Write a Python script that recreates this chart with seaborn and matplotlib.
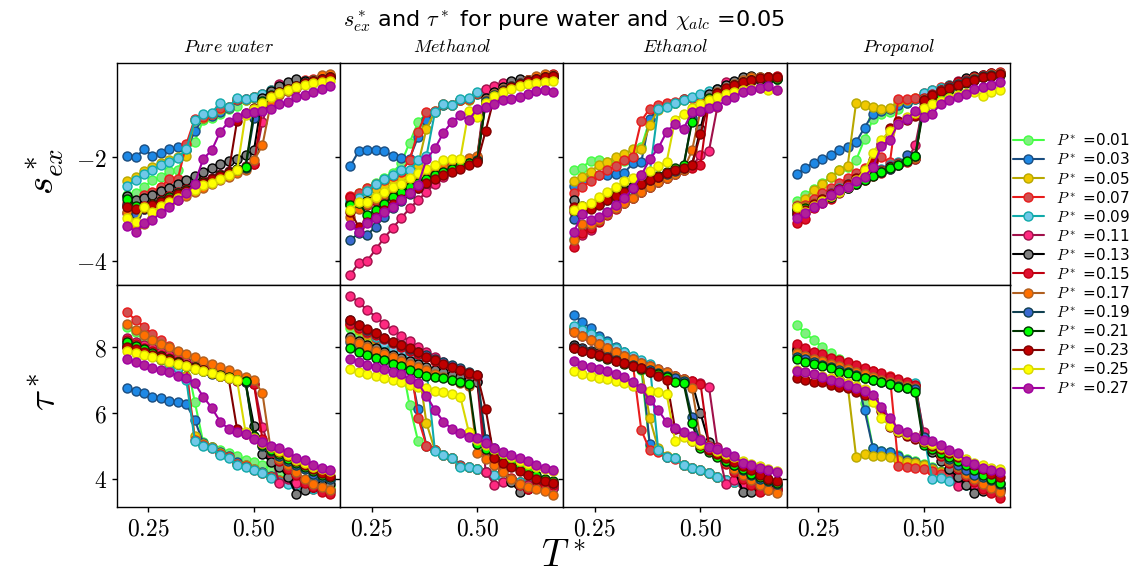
import matplotlib
matplotlib.use("Agg")
import matplotlib.pyplot as plt
import seaborn as sns
from matplotlib.ticker import FixedLocator, FuncFormatter

# Reduced temperature grid shared by every curve
T_STAR = [0.20, 0.22, 0.24, 0.26, 0.28, 0.30, 0.32, 0.34, 0.36, 0.38, 0.40, 0.42, 0.44,
          0.46, 0.48, 0.50, 0.52, 0.54, 0.56, 0.58, 0.60, 0.62, 0.64, 0.66, 0.68]

PRESSURES = ["0.01", "0.03", "0.05", "0.07", "0.09", "0.11", "0.13",
             "0.15", "0.17", "0.19", "0.21", "0.23", "0.25", "0.27"]

LINE_COLORS = ["#44ff44", "#1a4d80", "#b8a800", "#e81c1c", "#10aaaa", "#a0104a", "#000000",
               "#c00010", "#b06020", "#104050", "#003300", "#800000", "#d8d800", "#a000a0"]
FACE_COLORS = ["#80ee80", "#1e88e5", "#f0c800", "#d05050", "#70c8e8", "#ff2a80", "#808080",
               "#e01030", "#ff7000", "#3a6ad0", "#00ff00", "#c00000", "#ffff00", "#b0209a"]

COLUMN_TITLES = ["Pure\\ water", "Methanol", "Ethanol", "Propanol"]

# Excess entropy s*_ex, one row per pressure (0.01 ... 0.27)
WATER_SEX = [
    [-2.73, -2.70, -2.58, -2.44, -2.38, -2.26, -2.25, -1.87, -1.70, -1.28, -1.24, -1.16, -1.06, -1.02, -0.90, -0.86, -0.82, -0.76, -0.70, -0.66, -0.60, -0.55, -0.52, -0.48, -0.45],
    [-1.97, -2.00, -1.85, -1.97, -1.92, -1.84, -1.81, -1.86, -1.50, -1.24, -1.20, -1.12, -1.05, -0.90, -0.88, -0.84, -0.78, -0.72, -0.67, -0.62, -0.57, -0.53, -0.50, -0.46, -0.43],
    [-2.47, -2.38, -2.26, -2.19, -2.12, -2.06, -1.99, -1.98, -1.29, -1.25, -1.17, -1.06, -1.04, -0.88, -0.89, -0.84, -0.79, -0.72, -0.68, -0.63, -0.58, -0.53, -0.50, -0.46, -0.43],
    [-2.89, -2.89, -2.73, -2.67, -2.57, -2.42, -2.42, -1.75, -1.26, -1.22, -1.16, -1.05, -1.03, -0.87, -0.87, -0.83, -0.78, -0.71, -0.66, -0.61, -0.56, -0.51, -0.48, -0.44, -0.41],
    [-2.56, -2.44, -2.33, -2.25, -2.15, -2.09, -2.01, -1.85, -1.29, -1.17, -1.14, -0.96, -1.04, -0.85, -0.88, -0.83, -0.78, -0.70, -0.68, -0.63, -0.58, -0.53, -0.50, -0.46, -0.43],
    [-3.08, -3.12, -3.00, -2.95, -2.85, -2.75, -2.68, -2.60, -2.52, -2.45, -2.40, -2.33, -2.27, -2.22, -2.17, -2.14, -1.32, -0.80, -0.58, -0.64, -0.60, -0.56, -0.52, -0.48, -0.46],
    [-2.75, -2.82, -2.78, -2.74, -2.65, -2.59, -2.52, -2.45, -2.37, -2.29, -2.20, -2.13, -2.07, -2.03, -1.96, -1.87, -0.85, -0.72, -0.62, -0.55, -0.49, -0.52, -0.50, -0.46, -0.44],
    [-2.95, -3.05, -2.95, -2.90, -2.83, -2.75, -2.68, -2.62, -2.55, -2.48, -2.42, -2.36, -2.30, -2.24, -2.19, -2.14, -1.05, -0.90, -0.78, -0.72, -0.66, -0.58, -0.53, -0.47, -0.43],
    [-3.05, -3.35, -3.30, -3.05, -2.98, -2.90, -2.82, -2.75, -2.68, -2.60, -2.52, -2.45, -2.38, -2.31, -2.25, -2.06, -1.77, -0.95, -0.80, -0.72, -0.65, -0.58, -0.50, -0.42, -0.40],
    [-2.92, -3.10, -3.00, -2.92, -2.85, -2.78, -2.70, -2.63, -2.56, -2.49, -2.42, -2.36, -2.30, -2.24, -2.20, -1.25, -0.95, -0.82, -0.75, -0.68, -0.62, -0.56, -0.52, -0.48, -0.45],
    [-2.80, -2.95, -2.98, -2.90, -2.84, -2.77, -2.70, -2.63, -2.56, -2.48, -2.42, -2.35, -2.28, -2.22, -2.19, -1.12, -0.92, -0.80, -0.74, -0.68, -0.62, -0.57, -0.53, -0.48, -0.45],
    [-2.96, -3.00, -2.98, -2.92, -2.86, -2.80, -2.72, -2.65, -2.58, -2.50, -2.43, -2.37, -2.30, -1.30, -1.15, -1.05, -0.95, -0.82, -0.75, -0.68, -0.62, -0.57, -0.53, -0.48, -0.45],
    [-3.18, -3.26, -2.97, -3.05, -2.94, -2.86, -2.79, -2.70, -2.63, -2.53, -2.49, -2.43, -2.34, -2.25, -1.19, -1.07, -0.96, -0.84, -0.76, -0.70, -0.64, -0.60, -0.57, -0.54, -0.52],
    [-3.33, -3.44, -3.28, -3.21, -3.08, -2.96, -2.83, -2.70, -2.51, -2.03, -1.87, -1.51, -1.32, -1.22, -1.15, -1.13, -1.10, -1.06, -0.97, -0.94, -0.84, -0.79, -0.74, -0.68, -0.62],
]

METHANOL_SEX = [
    [-2.78, -2.70, -2.60, -2.50, -2.40, -2.30, -2.12, -1.72, -1.33, -1.15, -1.10, -0.99, -1.00, -0.90, -0.89, -0.78, -0.72, -0.68, -0.63, -0.58, -0.54, -0.51, -0.48, -0.45, -0.43],
    [-2.17, -1.88, -1.87, -1.87, -1.88, -1.97, -2.01, -2.03, -1.61, -1.28, -1.12, -1.00, -1.00, -0.90, -0.88, -0.78, -0.72, -0.67, -0.62, -0.58, -0.54, -0.50, -0.47, -0.44, -0.42],
    [-2.90, -2.80, -2.72, -2.62, -2.55, -2.45, -2.38, -2.28, -2.15, -1.45, -1.12, -0.98, -1.00, -0.89, -0.89, -0.76, -0.71, -0.67, -0.62, -0.58, -0.54, -0.50, -0.47, -0.44, -0.42],
    [-2.75, -2.70, -2.60, -2.52, -2.44, -2.36, -2.28, -2.06, -1.51, -1.13, -1.10, -0.97, -1.00, -0.89, -0.88, -0.76, -0.70, -0.66, -0.62, -0.57, -0.53, -0.50, -0.47, -0.44, -0.42],
    [-2.85, -2.78, -2.65, -2.51, -2.42, -2.35, -2.24, -2.24, -2.06, -1.98, -1.13, -0.97, -1.00, -0.88, -0.86, -0.74, -0.70, -0.66, -0.62, -0.57, -0.53, -0.50, -0.47, -0.44, -0.42],
    [-4.28, -4.04, -4.00, -3.78, -3.56, -3.37, -3.18, -2.99, -2.83, -2.67, -2.51, -2.38, -2.25, -2.12, -2.08, -2.00, -0.68, -0.62, -0.57, -0.55, -0.52, -0.50, -0.48, -0.46, -0.45],
    [-2.90, -2.95, -2.85, -2.78, -2.70, -2.62, -2.55, -2.47, -2.40, -2.33, -2.27, -2.20, -2.15, -2.10, -2.06, -2.02, -0.85, -0.75, -0.65, -0.53, -0.49, -0.52, -0.50, -0.47, -0.45],
    [-2.76, -2.95, -2.92, -2.85, -2.78, -2.70, -2.62, -2.55, -2.47, -2.40, -2.33, -2.26, -2.20, -2.15, -2.10, -2.03, -0.95, -0.80, -0.70, -0.62, -0.56, -0.50, -0.46, -0.43, -0.40],
    [-3.15, -3.00, -2.90, -2.80, -2.72, -2.64, -2.56, -2.48, -2.40, -2.32, -2.25, -2.18, -2.12, -2.06, -2.02, -1.98, -0.90, -0.78, -0.68, -0.62, -0.56, -0.50, -0.44, -0.40, -0.42],
    [-3.60, -3.47, -3.50, -3.34, -3.15, -2.98, -2.85, -2.72, -2.60, -2.50, -2.40, -2.32, -2.25, -2.18, -2.12, -2.06, -0.92, -0.80, -0.70, -0.63, -0.57, -0.52, -0.48, -0.45, -0.43],
    [-2.92, -2.88, -3.12, -3.02, -2.90, -2.76, -2.67, -2.57, -2.49, -2.42, -2.35, -2.28, -2.22, -2.17, -2.12, -2.08, -0.95, -0.82, -0.72, -0.65, -0.58, -0.53, -0.49, -0.46, -0.44],
    [-3.05, -3.35, -3.25, -3.15, -3.02, -2.90, -2.80, -2.70, -2.60, -2.50, -2.42, -2.35, -2.28, -2.22, -2.16, -2.10, -1.49, -0.85, -0.72, -0.65, -0.58, -0.53, -0.49, -0.46, -0.44],
    [-3.02, -2.86, -2.86, -2.76, -2.67, -2.57, -2.51, -2.41, -2.31, -2.22, -2.15, -2.06, -2.04, -2.03, -1.10, -1.22, -0.95, -0.82, -0.74, -0.68, -0.62, -0.58, -0.56, -0.54, -0.52],
    [-3.31, -3.44, -3.28, -3.18, -3.05, -2.96, -2.83, -2.70, -2.54, -2.04, -1.83, -1.53, -1.32, -1.19, -1.29, -1.06, -1.03, -0.97, -0.90, -0.87, -0.83, -0.78, -0.72, -0.70, -0.74],
]

ETHANOL_SEX = [
    [-2.24, -2.20, -2.07, -2.06, -2.10, -2.12, -2.08, -2.00, -1.81, -1.28, -1.05, -0.98, -0.95, -0.88, -0.86, -0.83, -0.76, -0.70, -0.63, -0.59, -0.55, -0.52, -0.50, -0.49, -0.48],
    [-2.56, -2.48, -2.40, -2.34, -2.35, -2.33, -2.30, -2.12, -2.09, -1.26, -1.05, -0.98, -0.95, -0.88, -0.86, -0.83, -0.76, -0.70, -0.63, -0.59, -0.55, -0.52, -0.50, -0.49, -0.48],
    [-2.47, -2.38, -2.28, -2.15, -2.09, -1.99, -1.94, -1.85, -1.85, -1.38, -1.08, -0.98, -0.95, -0.89, -0.86, -0.83, -0.76, -0.70, -0.63, -0.59, -0.55, -0.52, -0.50, -0.49, -0.48],
    [-2.70, -2.58, -2.47, -2.35, -2.25, -2.17, -2.06, -1.99, -1.30, -1.06, -1.00, -0.96, -0.94, -0.88, -0.85, -0.82, -0.75, -0.68, -0.62, -0.58, -0.54, -0.51, -0.49, -0.48, -0.47],
    [-3.58, -3.42, -3.30, -3.18, -3.05, -2.92, -2.80, -2.66, -2.48, -2.30, -1.06, -1.03, -0.95, -0.90, -0.83, -0.77, -0.72, -0.68, -0.62, -0.58, -0.54, -0.51, -0.50, -0.49, -0.48],
    [-3.05, -3.50, -3.40, -3.20, -3.08, -2.98, -2.88, -2.78, -2.68, -2.58, -2.48, -2.40, -2.32, -2.25, -2.18, -1.96, -1.88, -1.03, -0.55, -0.60, -0.56, -0.52, -0.50, -0.48, -0.46],
    [-2.83, -2.95, -2.92, -2.85, -2.78, -2.70, -2.62, -2.55, -2.48, -2.42, -2.36, -2.30, -2.25, -2.20, -2.15, -1.45, -0.78, -0.68, -0.60, -0.52, -0.46, -0.44, -0.45, -0.46, -0.47],
    [-3.74, -3.47, -3.37, -3.25, -3.12, -3.00, -2.88, -2.78, -2.68, -2.58, -2.48, -2.40, -2.32, -2.25, -2.20, -2.15, -0.92, -0.80, -0.70, -0.62, -0.56, -0.50, -0.47, -0.45, -0.44],
    [-3.60, -3.30, -3.30, -3.22, -3.10, -2.98, -2.88, -2.78, -2.68, -2.58, -2.48, -2.40, -2.32, -2.25, -1.87, -1.10, -0.85, -0.75, -0.66, -0.58, -0.50, -0.46, -0.45, -0.46, -0.47],
    [-3.20, -3.05, -2.98, -2.90, -2.82, -2.75, -2.68, -2.60, -2.52, -2.45, -2.38, -2.32, -2.26, -2.20, -1.25, -1.05, -0.90, -0.78, -0.68, -0.60, -0.55, -0.50, -0.48, -0.47, -0.47],
    [-3.02, -3.00, -2.95, -2.88, -2.80, -2.72, -2.65, -2.57, -2.50, -2.43, -2.36, -2.28, -2.20, -2.15, -1.32, -1.00, -0.86, -0.76, -0.68, -0.60, -0.55, -0.51, -0.49, -0.48, -0.48],
    [-2.97, -3.02, -3.00, -2.92, -2.83, -2.75, -2.68, -2.60, -2.52, -2.45, -2.38, -2.30, -2.25, -2.20, -2.15, -1.55, -0.90, -0.76, -0.66, -0.60, -0.54, -0.50, -0.47, -0.46, -0.46],
    [-3.02, -2.95, -2.88, -2.76, -2.67, -2.57, -2.47, -2.41, -2.35, -2.27, -2.18, -2.09, -1.28, -1.16, -1.05, -0.98, -0.90, -0.84, -0.78, -0.74, -0.70, -0.68, -0.67, -0.70, -0.70],
    [-3.45, -3.10, -3.21, -3.15, -3.05, -2.92, -2.79, -2.60, -2.35, -2.04, -1.83, -1.51, -1.35, -1.45, -1.13, -1.10, -1.05, -1.02, -0.90, -0.84, -0.74, -0.71, -0.66, -0.62, -0.71],
]

PROPANOL_SEX = [
    [-2.84, -2.73, -2.62, -2.49, -2.38, -2.25, -2.19, -2.06, -1.65, -1.26, -1.16, -1.12, -1.06, -0.96, -0.88, -0.80, -0.74, -0.68, -0.62, -0.56, -0.52, -0.48, -0.45, -0.42, -0.40],
    [-2.33, -2.20, -2.11, -2.04, -1.96, -1.87, -1.81, -1.71, -1.43, -1.16, -1.11, -1.06, -1.00, -0.95, -0.88, -0.80, -0.74, -0.68, -0.62, -0.56, -0.52, -0.48, -0.45, -0.42, -0.40],
    [-2.93, -2.80, -2.63, -2.51, -2.39, -2.25, -2.17, -0.95, -0.99, -1.03, -1.06, -1.05, -0.92, -0.90, -0.86, -0.80, -0.74, -0.68, -0.62, -0.56, -0.52, -0.48, -0.45, -0.42, -0.40],
    [-3.00, -2.92, -2.80, -2.70, -2.60, -2.50, -2.40, -2.30, -2.20, -2.10, -2.00, -2.10, -0.87, -0.87, -0.85, -0.76, -0.70, -0.65, -0.60, -0.55, -0.50, -0.47, -0.44, -0.41, -0.39],
    [-3.10, -3.00, -2.90, -2.80, -2.70, -2.60, -2.52, -2.44, -2.36, -2.30, -2.22, -2.16, -2.10, -2.06, -2.03, -0.76, -0.70, -0.66, -0.60, -0.55, -0.50, -0.47, -0.44, -0.41, -0.39],
    [-2.95, -3.02, -2.90, -2.80, -2.70, -2.62, -2.54, -2.46, -2.38, -2.30, -2.24, -2.18, -2.12, -2.07, -1.77, -0.95, -0.85, -0.72, -0.62, -0.52, -0.50, -0.46, -0.43, -0.41, -0.40],
    [-3.00, -3.05, -2.95, -2.85, -2.75, -2.66, -2.57, -2.49, -2.41, -2.33, -2.26, -2.19, -2.13, -2.08, -2.02, -0.90, -0.80, -0.70, -0.62, -0.55, -0.47, -0.44, -0.41, -0.38, -0.37],
    [-3.28, -3.20, -2.98, -2.88, -2.80, -2.70, -2.60, -2.52, -2.44, -2.36, -2.30, -2.23, -2.16, -2.10, -2.04, -0.85, -0.78, -0.70, -0.62, -0.55, -0.50, -0.46, -0.42, -0.38, -0.36],
    [-3.05, -2.95, -2.88, -2.80, -2.72, -2.64, -2.56, -2.48, -2.40, -2.32, -2.26, -2.20, -2.14, -2.08, -2.02, -0.88, -0.80, -0.72, -0.64, -0.58, -0.52, -0.47, -0.43, -0.39, -0.37],
    [-3.08, -3.02, -2.92, -2.84, -2.76, -2.67, -2.59, -2.51, -2.43, -2.35, -2.28, -2.22, -2.16, -1.96, -1.98, -0.90, -0.80, -0.72, -0.64, -0.58, -0.52, -0.48, -0.44, -0.41, -0.39],
    [-3.02, -2.98, -2.92, -2.84, -2.76, -2.68, -2.60, -2.52, -2.44, -2.36, -2.28, -2.21, -2.15, -2.08, -1.98, -1.06, -0.92, -0.80, -0.70, -0.62, -0.56, -0.50, -0.46, -0.43, -0.41],
    [-3.10, -3.02, -2.90, -2.80, -2.72, -2.62, -2.52, -2.40, -2.25, -2.05, -1.75, -1.44, -1.30, -1.28, -1.21, -0.90, -0.80, -0.72, -0.66, -0.60, -0.54, -0.50, -0.46, -0.43, -0.40],
    [-2.96, -3.05, -2.95, -2.85, -2.75, -2.68, -2.58, -2.45, -2.25, -1.92, -1.66, -1.50, -1.35, -1.22, -1.15, -1.05, -0.98, -0.92, -0.86, -0.80, -0.76, -0.74, -0.81, -0.74, -0.70],
    [-3.18, -3.08, -2.96, -2.88, -2.73, -2.63, -2.57, -2.47, -2.38, -2.19, -1.78, -1.66, -1.35, -1.27, -1.10, -1.22, -1.16, -0.97, -0.90, -0.84, -0.78, -0.68, -0.64, -0.60, -0.55],
]

# Relaxation time tau*, one row per pressure (0.01 ... 0.27)
WATER_TAU = [
    [8.60, 8.45, 8.30, 8.12, 7.98, 7.85, 7.72, 7.58, 6.33, 5.10, 4.97, 4.88, 4.78, 4.68, 4.58, 4.50, 4.40, 4.30, 4.18, 4.10, 4.02, 3.95, 3.88, 3.82, 3.76],
    [6.76, 6.66, 6.59, 6.48, 6.43, 6.35, 6.31, 6.25, 5.78, 5.08, 4.95, 4.80, 4.70, 4.50, 4.40, 4.30, 4.20, 4.08, 3.96, 3.90, 3.85, 3.80, 3.90, 4.00, 3.95],
    [8.05, 7.95, 7.85, 7.72, 7.60, 7.48, 7.36, 7.10, 5.28, 5.05, 4.95, 4.78, 4.66, 4.45, 4.40, 4.28, 4.18, 4.06, 3.95, 3.88, 3.82, 3.76, 3.72, 3.68, 3.65],
    [9.04, 8.81, 8.61, 8.37, 8.20, 8.02, 7.85, 7.40, 5.17, 5.02, 4.92, 4.74, 4.66, 4.43, 4.38, 4.27, 4.17, 4.05, 3.93, 3.86, 3.80, 3.74, 3.70, 3.66, 3.62],
    [8.15, 8.00, 7.88, 7.75, 7.62, 7.50, 7.35, 7.00, 5.15, 5.00, 4.92, 4.72, 4.64, 4.41, 4.36, 4.26, 4.16, 4.03, 3.91, 3.85, 3.80, 3.74, 3.70, 3.66, 3.62],
    [8.25, 8.15, 8.05, 7.95, 7.85, 7.75, 7.65, 7.55, 7.46, 7.38, 7.30, 7.22, 7.14, 7.06, 6.98, 6.88, 5.58, 4.75, 3.86, 3.98, 3.88, 3.80, 3.75, 3.70, 3.66],
    [8.00, 7.90, 7.80, 7.72, 7.64, 7.56, 7.48, 7.40, 7.33, 7.26, 7.19, 7.12, 7.05, 6.98, 6.92, 5.60, 4.75, 4.50, 4.35, 4.05, 3.53, 3.66, 3.75, 3.80, 3.85],
    [8.20, 8.08, 7.97, 7.86, 7.76, 7.66, 7.56, 7.46, 7.37, 7.28, 7.20, 7.12, 7.04, 6.97, 6.92, 6.86, 5.20, 4.80, 4.55, 4.30, 4.10, 3.88, 3.75, 3.60, 3.53],
    [8.68, 8.50, 8.35, 8.20, 8.08, 7.98, 7.88, 7.78, 7.68, 7.58, 7.48, 7.38, 7.28, 7.18, 7.08, 6.99, 6.59, 4.85, 4.60, 4.40, 4.20, 4.00, 3.85, 3.75, 3.66],
    [8.05, 7.95, 7.85, 7.76, 7.67, 7.58, 7.50, 7.42, 7.34, 7.26, 7.18, 7.11, 7.04, 6.98, 6.93, 5.25, 5.00, 4.85, 4.70, 4.55, 4.40, 4.28, 4.15, 4.05, 3.98],
    [8.15, 8.02, 7.92, 7.82, 7.72, 7.62, 7.54, 7.45, 7.37, 7.29, 7.21, 7.14, 7.07, 7.00, 6.96, 5.30, 5.02, 4.88, 4.74, 4.60, 4.46, 4.34, 4.22, 4.12, 4.06],
    [8.00, 7.92, 7.84, 7.76, 7.68, 7.60, 7.52, 7.44, 7.36, 7.28, 7.20, 7.12, 7.05, 5.50, 5.35, 5.22, 5.08, 4.95, 4.82, 4.70, 4.55, 4.42, 4.30, 4.18, 4.08],
    [7.88, 7.82, 7.76, 7.70, 7.62, 7.54, 7.47, 7.40, 7.33, 7.26, 7.19, 7.12, 7.05, 6.98, 5.42, 5.22, 5.08, 4.96, 4.84, 4.72, 4.58, 4.46, 4.36, 4.28, 4.22],
    [7.63, 7.53, 7.44, 7.36, 7.29, 7.22, 7.12, 7.04, 6.89, 6.48, 6.15, 5.73, 5.51, 5.42, 5.34, 5.20, 5.12, 5.00, 4.92, 4.80, 4.62, 4.57, 4.41, 4.33, 4.26],
]

METHANOL_TAU = [
    [8.58, 8.42, 8.28, 8.12, 7.98, 7.84, 7.62, 6.23, 5.14, 5.00, 4.86, 4.72, 4.62, 4.38, 4.36, 4.29, 4.21, 4.11, 4.01, 3.99, 3.91, 3.81, 3.80, 3.76, 3.71],
    [8.15, 8.02, 7.92, 7.82, 7.72, 7.62, 7.52, 7.40, 6.11, 5.00, 4.86, 4.72, 4.62, 4.40, 4.36, 4.29, 4.21, 4.11, 4.01, 3.99, 3.91, 3.83, 3.80, 3.76, 3.71],
    [8.65, 8.50, 8.35, 8.20, 8.05, 7.90, 7.76, 7.62, 7.45, 5.68, 4.86, 4.72, 4.62, 4.38, 4.36, 4.29, 4.21, 4.11, 4.01, 3.99, 3.91, 3.81, 3.80, 3.76, 3.71],
    [8.72, 8.56, 8.40, 8.25, 8.10, 7.95, 7.82, 7.68, 5.85, 5.00, 4.86, 4.72, 4.62, 4.38, 4.36, 4.29, 4.21, 4.11, 4.01, 3.99, 3.91, 3.81, 3.80, 3.76, 3.71],
    [8.75, 8.60, 8.44, 8.28, 8.12, 7.95, 7.82, 7.68, 7.52, 7.30, 4.84, 4.72, 4.62, 4.36, 4.36, 4.29, 4.21, 4.11, 4.01, 3.99, 3.91, 3.81, 3.80, 3.76, 3.71],
    [9.55, 9.34, 9.11, 8.91, 8.68, 8.51, 8.33, 8.17, 8.00, 7.85, 7.70, 7.55, 7.39, 7.22, 7.06, 6.95, 4.21, 3.81, 3.91, 3.95, 3.85, 3.80, 3.78, 3.75, 3.72],
    [8.30, 8.18, 8.06, 7.95, 7.85, 7.75, 7.65, 7.56, 7.47, 7.38, 7.30, 7.22, 7.14, 7.07, 7.00, 6.93, 5.10, 4.70, 4.26, 3.89, 3.61, 3.70, 3.75, 3.80, 3.85],
    [8.70, 8.58, 8.46, 8.34, 8.22, 8.10, 7.99, 7.88, 7.78, 7.68, 7.58, 7.48, 7.38, 7.28, 7.18, 7.10, 4.80, 4.55, 4.30, 4.02, 3.80, 3.70, 3.75, 3.78, 3.81],
    [8.20, 8.10, 7.98, 7.88, 7.78, 7.68, 7.58, 7.48, 7.38, 7.28, 7.18, 7.08, 6.98, 6.90, 6.82, 4.77, 4.60, 4.40, 4.20, 4.00, 3.85, 3.75, 3.70, 3.62, 3.50],
    [8.80, 8.66, 8.52, 8.40, 8.26, 8.15, 8.04, 7.94, 7.84, 7.74, 7.64, 7.54, 7.44, 7.34, 7.24, 7.15, 5.20, 4.92, 4.70, 4.50, 4.30, 4.15, 4.05, 3.95, 3.88],
    [7.95, 7.85, 7.75, 7.67, 7.60, 7.49, 7.41, 7.29, 7.19, 7.12, 7.09, 7.06, 6.99, 6.92, 6.86, 5.04, 4.90, 4.78, 4.62, 4.50, 4.38, 4.25, 4.12, 4.00, 3.94],
    [8.81, 8.66, 8.54, 8.40, 8.25, 8.15, 8.05, 7.95, 7.85, 7.70, 7.60, 7.49, 7.39, 7.29, 7.19, 7.14, 6.11, 4.62, 4.48, 4.36, 4.22, 4.10, 4.00, 3.92, 3.86],
    [7.31, 7.22, 7.16, 7.12, 7.04, 6.99, 6.92, 6.84, 6.79, 6.74, 6.66, 6.62, 6.56, 6.48, 5.42, 5.17, 5.02, 4.90, 4.78, 4.65, 4.55, 4.45, 4.35, 4.28, 4.22],
    [7.63, 7.55, 7.46, 7.39, 7.32, 7.24, 7.16, 7.02, 6.89, 6.51, 6.08, 5.73, 5.51, 5.37, 5.27, 5.22, 5.07, 4.94, 4.82, 4.72, 4.64, 4.55, 4.41, 4.31, 4.26],
]

ETHANOL_TAU = [
    [8.55, 8.40, 8.25, 8.05, 7.90, 7.76, 7.62, 7.48, 7.30, 5.00, 4.87, 4.67, 4.62, 4.41, 4.33, 4.26, 4.16, 4.06, 3.95, 3.90, 3.85, 3.80, 3.76, 3.72, 3.68],
    [8.96, 8.76, 8.56, 8.33, 8.17, 8.00, 7.85, 7.70, 7.55, 5.04, 4.87, 4.67, 4.62, 4.41, 4.33, 4.26, 4.16, 4.06, 3.95, 3.90, 3.85, 3.80, 3.76, 3.72, 3.68],
    [8.60, 8.45, 8.30, 8.14, 7.98, 7.82, 7.68, 7.54, 7.40, 5.83, 4.92, 4.70, 4.62, 4.41, 4.33, 4.26, 4.16, 4.06, 3.95, 3.90, 3.85, 3.80, 3.76, 3.72, 3.68],
    [8.55, 8.40, 8.24, 8.08, 7.92, 7.76, 7.62, 7.48, 5.47, 4.87, 4.80, 4.67, 4.60, 4.42, 4.33, 4.26, 4.16, 4.06, 3.95, 3.90, 3.85, 3.80, 3.75, 3.70, 3.66],
    [8.64, 8.50, 8.38, 8.24, 8.10, 7.96, 7.84, 7.72, 7.60, 7.48, 4.87, 4.67, 4.62, 4.41, 4.33, 4.26, 4.16, 4.06, 3.95, 3.90, 3.85, 3.80, 3.76, 3.72, 3.68],
    [8.45, 8.32, 8.20, 8.08, 7.96, 7.84, 7.72, 7.62, 7.52, 7.42, 7.32, 7.22, 7.12, 7.02, 6.95, 6.89, 6.79, 4.97, 3.83, 3.95, 3.85, 3.80, 3.75, 3.72, 3.70],
    [8.05, 7.95, 7.88, 7.80, 7.72, 7.64, 7.56, 7.48, 7.40, 7.32, 7.24, 7.16, 7.08, 7.00, 6.92, 5.98, 5.10, 4.80, 4.55, 4.30, 3.61, 3.61, 3.70, 3.75, 3.80],
    [8.00, 7.92, 7.85, 7.78, 7.70, 7.62, 7.55, 7.47, 7.40, 7.32, 7.25, 7.18, 7.10, 7.03, 6.95, 6.88, 5.00, 4.70, 4.45, 4.20, 4.00, 3.80, 3.61, 3.65, 3.70],
    [8.45, 8.32, 8.20, 8.07, 7.95, 7.84, 7.73, 7.62, 7.52, 7.42, 7.32, 7.22, 7.12, 7.02, 6.74, 5.20, 4.95, 4.70, 4.50, 4.30, 4.10, 3.95, 3.80, 3.65, 3.56],
    [8.00, 7.92, 7.84, 7.76, 7.68, 7.60, 7.52, 7.44, 7.36, 7.28, 7.20, 7.12, 7.04, 6.97, 5.88, 5.10, 4.90, 4.72, 4.55, 4.40, 4.25, 4.12, 4.00, 3.92, 3.85],
    [7.95, 7.88, 7.80, 7.72, 7.64, 7.56, 7.48, 7.40, 7.32, 7.24, 7.16, 7.08, 6.94, 6.89, 5.68, 4.92, 4.80, 4.65, 4.52, 4.40, 4.28, 4.15, 4.05, 3.95, 3.88],
    [7.95, 7.88, 7.82, 7.74, 7.66, 7.58, 7.50, 7.42, 7.34, 7.24, 7.12, 6.99, 5.50, 5.30, 5.15, 5.02, 4.88, 4.75, 4.62, 4.50, 4.38, 4.25, 4.12, 4.00, 3.92],
    [7.26, 7.16, 7.12, 7.06, 7.02, 6.97, 6.89, 6.82, 6.74, 6.66, 6.62, 6.56, 5.14, 5.27, 5.15, 5.05, 4.95, 4.85, 4.75, 4.65, 4.55, 4.45, 4.38, 4.30, 4.22],
    [7.57, 7.46, 7.39, 7.32, 7.26, 7.16, 7.09, 6.92, 6.74, 6.38, 6.08, 5.71, 5.55, 5.42, 5.30, 5.17, 4.97, 4.90, 4.82, 4.70, 4.46, 4.41, 4.33, 4.26, 4.19],
]

PROPANOL_TAU = [
    [8.66, 8.40, 8.20, 8.00, 7.80, 7.63, 7.44, 7.28, 6.28, 4.92, 4.85, 4.82, 4.72, 4.60, 4.52, 4.45, 4.35, 4.22, 4.12, 4.02, 3.95, 3.88, 3.82, 3.76, 3.70],
    [7.80, 7.70, 7.60, 7.52, 7.42, 7.30, 7.22, 7.12, 6.08, 4.92, 4.85, 4.80, 4.70, 4.58, 4.50, 4.42, 4.32, 4.20, 4.10, 4.00, 3.92, 3.86, 3.80, 3.75, 3.70],
    [7.90, 7.78, 7.68, 7.56, 7.44, 7.25, 6.84, 4.67, 4.74, 4.70, 4.70, 4.67, 4.57, 4.50, 4.46, 4.40, 4.30, 4.20, 4.10, 4.00, 3.92, 3.86, 3.80, 3.75, 3.70],
    [8.00, 7.90, 7.80, 7.72, 7.64, 7.56, 7.48, 7.40, 7.32, 7.25, 7.18, 7.10, 4.39, 4.34, 4.32, 4.28, 4.22, 4.15, 4.08, 4.00, 3.92, 3.86, 3.80, 3.75, 3.70],
    [7.85, 7.75, 7.66, 7.58, 7.50, 7.42, 7.34, 7.26, 7.18, 7.10, 7.02, 6.95, 6.88, 6.82, 6.90, 5.30, 4.00, 4.03, 3.93, 3.85, 3.80, 3.76, 3.72, 3.68, 3.65],
    [7.95, 7.85, 7.75, 7.66, 7.57, 7.48, 7.40, 7.32, 7.24, 7.16, 7.08, 7.00, 6.93, 6.86, 6.80, 5.40, 5.00, 4.70, 4.30, 3.79, 3.85, 3.80, 3.75, 3.70, 3.66],
    [7.90, 7.80, 7.70, 7.62, 7.54, 7.46, 7.38, 7.30, 7.22, 7.14, 7.06, 6.98, 6.92, 6.86, 6.80, 5.10, 4.80, 4.55, 4.30, 4.05, 3.80, 3.56, 3.62, 3.68, 3.72],
    [8.07, 7.95, 7.85, 7.77, 7.67, 7.60, 7.53, 7.44, 7.36, 7.26, 7.19, 7.09, 7.02, 6.94, 6.85, 5.15, 4.90, 4.68, 4.48, 4.28, 4.08, 3.90, 3.70, 3.55, 3.42],
    [7.80, 7.72, 7.64, 7.56, 7.48, 7.40, 7.32, 7.24, 7.16, 7.08, 7.00, 6.94, 6.88, 6.82, 6.75, 5.20, 4.95, 4.75, 4.55, 4.35, 4.15, 3.98, 3.85, 3.72, 3.60],
    [7.70, 7.62, 7.54, 7.46, 7.38, 7.30, 7.22, 7.14, 7.06, 6.98, 6.92, 6.86, 6.80, 6.76, 6.72, 5.25, 5.00, 4.80, 4.60, 4.42, 4.25, 4.12, 4.05, 3.95, 3.85],
    [7.63, 7.55, 7.47, 7.40, 7.35, 7.24, 7.19, 7.12, 7.06, 6.99, 6.94, 6.86, 6.79, 6.74, 6.62, 5.02, 4.90, 4.78, 4.66, 4.52, 4.40, 4.25, 4.12, 4.00, 3.88],
    [7.06, 6.99, 6.94, 6.92, 6.84, 6.79, 6.74, 6.64, 6.55, 6.40, 6.05, 5.58, 5.40, 5.30, 5.20, 5.10, 5.00, 4.90, 4.78, 4.65, 4.52, 4.40, 4.28, 4.15, 4.05],
    [7.30, 7.24, 7.18, 7.12, 7.04, 6.96, 6.90, 6.82, 6.72, 6.33, 5.83, 5.60, 5.45, 5.35, 5.25, 5.15, 5.05, 4.95, 4.85, 4.72, 4.60, 4.48, 4.40, 4.32, 4.28],
    [7.26, 7.22, 7.16, 7.09, 6.99, 6.92, 6.84, 6.76, 6.66, 6.54, 6.18, 5.83, 5.51, 5.42, 5.27, 5.17, 5.14, 5.02, 4.87, 4.77, 4.54, 4.43, 4.31, 4.26, 4.19],
]

SEX_PANELS = [WATER_SEX, METHANOL_SEX, ETHANOL_SEX, PROPANOL_SEX]
TAU_PANELS = [WATER_TAU, METHANOL_TAU, ETHANOL_TAU, PROPANOL_TAU]

X_TICKS = [0.25, 0.50]
SEX_TICKS = [-4, -2]
TAU_TICKS = [4, 6, 8]

sns.set_theme(style="ticks", rc={
    "axes.edgecolor": "black",
    "axes.linewidth": 1.0,
    "axes.labelcolor": "black",
    "text.color": "black",
    "xtick.color": "black",
    "ytick.color": "black",
    "xtick.major.size": 3.5,
    "ytick.major.size": 3.5,
    "xtick.major.width": 1.0,
    "ytick.major.width": 1.0,
})
plt.rcParams["font.family"] = ["DejaVu Sans"]
plt.rcParams["mathtext.fontset"] = "cm"

fig, axes = plt.subplots(2, 4, figsize=(11.29, 5.72), dpi=100, sharex=True, sharey="row")
fig.subplots_adjust(left=0.1036, right=0.8946, top=0.8899, bottom=0.1136, wspace=0, hspace=0)

for col in range(4):
    for row, panel in enumerate([SEX_PANELS[col], TAU_PANELS[col]]):
        ax = axes[row, col]
        for i, values in enumerate(panel):
            sns.lineplot(x=T_STAR, y=values, ax=ax, color=LINE_COLORS[i],
                         marker="o", markersize=6.5, markerfacecolor=FACE_COLORS[i],
                         markeredgecolor=LINE_COLORS[i], markeredgewidth=1.0,
                         linewidth=1.5, label=f"$P^*$ =" + PRESSURES[i], legend=False)
    axes[0, col].set_title(r"$\mathit{" + COLUMN_TITLES[col] + "}$", fontsize=13, pad=8)
    axes[0, col].tick_params(axis="x", bottom=False)

x_fmt = FuncFormatter(lambda v, _: f"${v:.2f}$")
y_fmt = FuncFormatter(lambda v, _: f"${v:.0f}$")
for ax in axes.flat:
    ax.set_xlim(0.176, 0.704)
    ax.xaxis.set_major_locator(FixedLocator(X_TICKS))
    ax.xaxis.set_major_formatter(x_fmt)
    ax.yaxis.set_major_formatter(y_fmt)
    ax.tick_params(labelsize=17)
    ax.set_xlabel("")
    ax.set_ylabel("")

axes[0, 0].set_ylim(-4.47, -0.18)
axes[0, 0].yaxis.set_major_locator(FixedLocator(SEX_TICKS))
axes[1, 0].set_ylim(3.14, 9.87)
axes[1, 0].yaxis.set_major_locator(FixedLocator(TAU_TICKS))

fig.text(0.04, 0.70, r"$s^*_{ex}$", fontsize=28, rotation=90, ha="center", va="center")
fig.text(0.04, 0.315, r"$\tau^*$", fontsize=28, rotation=90, ha="center", va="center")
fig.text(0.4987, 0.028, r"$T^*$", fontsize=27, ha="center", va="center")
fig.suptitle(r"$s^*_{ex}$ and $\tau^*$ for pure water and $\chi_{alc}$ =0.05",
             fontsize=16, x=0.4995, y=0.985, va="top")

handles, labels = axes[0, 0].get_legend_handles_labels()
fig.legend(handles, labels, loc="center left", bbox_to_anchor=(0.892, 0.538),
           frameon=False, fontsize=11, handlelength=2.0, labelspacing=0.2,
           borderaxespad=0.0)

fig.savefig("out.png", dpi=100)
